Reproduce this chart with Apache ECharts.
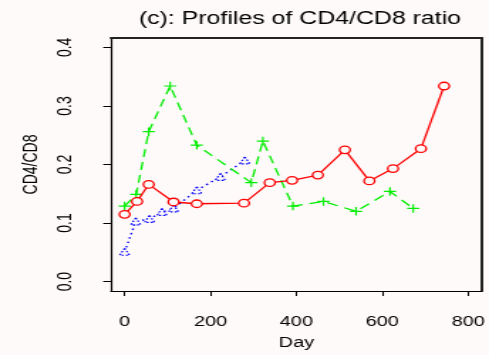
<!DOCTYPE html>
<html>
<head>
<meta charset="utf-8">
<script src="https://cdn.jsdelivr.net/npm/echarts@6/dist/echarts.min.js"></script>
<style>
  html, body { margin: 0; padding: 0; background: #fffafa; overflow: hidden; }
  /* the reference is an R plot stretched sideways, so draw narrow and stretch */
  #chart { width: 344px; height: 355px; transform: scaleX(1.42151); transform-origin: 0 0; }
</style>
</head>
<body>
<div id="chart"></div>
<script>
const DAYS_RED = [0, 29, 56, 114, 168, 278, 338, 390, 450, 513, 570, 625, 690, 744]
const RATIO_RED = [0.115, 0.137, 0.166, 0.136, 0.133, 0.134, 0.169, 0.173, 0.182, 0.225, 0.172, 0.193, 0.227, 0.334]
const DAYS_GREEN = [0, 27, 56, 106, 168, 295, 322, 392, 463, 539, 618, 672]
const RATIO_GREEN = [0.129, 0.149, 0.256, 0.334, 0.233, 0.169, 0.240, 0.129, 0.137, 0.120, 0.154, 0.125]
const DAYS_BLUE = [0, 26, 58, 87, 114, 168, 223, 280]
const RATIO_BLUE = [0.051, 0.103, 0.107, 0.119, 0.125, 0.156, 0.179, 0.207]

const X_TICKS = [0, 200, 400, 600, 800]
const Y_TICKS = [0, 0.1, 0.2, 0.3, 0.4]

const X_MIN = -32, X_MAX = 832
const Y_MIN = -0.016, Y_MAX = 0.416

const BG = '#fffafa'
const FONT = '"Liberation Sans", Arial, sans-serif'
const PLUS = 'path://M4.3,0h1.4v4.3h4.3v1.4h-4.3v4.3h-1.4v-4.3h-4.3v-1.4h4.3z'

const pairs = (xs, ys) => xs.map((x, i) => [x, ys[i]])

// plain frame lines for the top / right edges of the box
const frameAxis = (position, min, max) => ({
  type: 'value', position, min, max,
  axisLine: { show: true, onZero: false, lineStyle: { color: '#222', width: 2 } },
  axisTick: { show: false }, axisLabel: { show: false }, splitLine: { show: false },
})

const chart = echarts.init(document.getElementById('chart'))

chart.setOption({
  backgroundColor: BG,
  animation: false,
  graphic: [{
    type: 'text',
    x: 211, y: 19.5,
    style: {
      text: '(c): Profiles of CD4/CD8 ratio',
      font: '17.5px ' + FONT,
      fill: '#000',
      align: 'center', verticalAlign: 'middle',
      textAlign: 'center', textVerticalAlign: 'middle',
    },
  }],
  grid: { left: 78, right: 4, top: 38, bottom: 60 },
  xAxis: [{
    type: 'value', min: X_MIN, max: X_MAX, position: 'bottom',
    name: 'Day', nameLocation: 'middle', nameGap: 45,
    nameTextStyle: { fontSize: 14, fontFamily: FONT, color: '#000' },
    axisLine: { show: true, onZero: false, lineStyle: { color: '#000', width: 1.2 } },
    splitLine: { show: false },
    axisTick: { show: true, length: 5, customValues: X_TICKS, lineStyle: { color: '#000', width: 1 } },
    axisLabel: { customValues: X_TICKS, margin: 24, fontSize: 14, fontFamily: FONT, color: '#000' },
  }, frameAxis('top', X_MIN, X_MAX)],
  yAxis: [{
    type: 'value', min: Y_MIN, max: Y_MAX, position: 'left',
    name: 'CD4/CD8', nameLocation: 'middle', nameGap: 48.5, nameRotate: 90,
    nameTextStyle: { fontSize: 14, fontFamily: FONT, color: '#000' },
    axisLine: { show: true, onZero: false, lineStyle: { color: '#000', width: 1.2 } },
    splitLine: { show: false },
    axisTick: { show: true, length: 5.4, customValues: Y_TICKS, lineStyle: { color: '#000', width: 1 } },
    axisLabel: {
      customValues: Y_TICKS, margin: 25, rotate: 90, fontSize: 14, fontFamily: FONT, color: '#000',
      formatter: v => v.toFixed(1),
    },
  }, frameAxis('right', Y_MIN, Y_MAX)],
  series: [
    {
      type: 'line',
      data: pairs(DAYS_BLUE, RATIO_BLUE),
      symbol: 'triangle', symbolSize: 7,
      lineStyle: { color: '#0000ff', width: 1.4, type: [1.5, 3] },
      itemStyle: { color: BG, borderColor: '#0000ff', borderWidth: 1.2, borderType: [1.5, 1.5] },
      z: 2,
    },
    {
      type: 'line',
      data: pairs(DAYS_GREEN, RATIO_GREEN),
      symbol: PLUS, symbolSize: 8.5,
      lineStyle: { color: '#00ee00', width: 1.3, type: [8, 5] },
      itemStyle: { color: '#00ee00', borderWidth: 0 },
      z: 3,
    },
    {
      type: 'line',
      data: pairs(DAYS_RED, RATIO_RED),
      symbol: 'circle', symbolSize: 7.5,
      lineStyle: { color: '#ff0000', width: 1.3 },
      itemStyle: { color: BG, borderColor: '#ff0000', borderWidth: 1.3 },
      z: 4,
    },
  ],
})
</script>
</body>
</html>
